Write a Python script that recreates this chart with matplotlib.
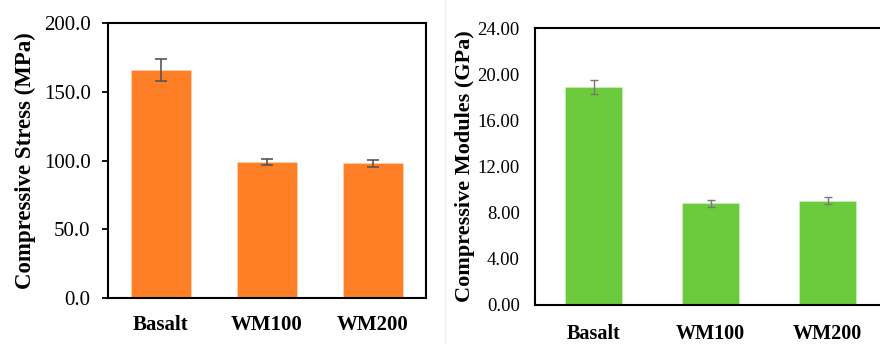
import numpy as np
import matplotlib
matplotlib.use("Agg")
import matplotlib.pyplot as plt
from matplotlib.lines import Line2D

plt.rcParams['font.family'] = ['Liberation Serif', 'DejaVu Serif']

categories = ["Basalt", "WM100", "WM200"]
stress = [165.6, 98.8, 98.0]
stress_err = [8.0, 2.0, 2.5]
modulus = [18.86, 8.82, 9.02]
modulus_err = [0.6, 0.32, 0.3]
stress_ticks = [0, 50, 100, 150, 200]
modulus_ticks = [0, 4, 8, 12, 16, 20, 24]

fig = plt.figure(figsize=(8.8, 3.44), dpi=100)

# left panel
ax1 = fig.add_axes([0.1227, 0.1337, 0.3614, 0.7994])
x = np.arange(len(categories))
ax1.bar(x, stress, width=0.57, color="#FF7F27", edgecolor="#FFD0B0", linewidth=0.6,
        yerr=stress_err, capsize=4, error_kw=dict(ecolor="#555555", elinewidth=1.2, capthick=1.2))
ax1.set_xlim(-0.5, 2.5)
ax1.set_ylim(0, 200)
ax1.set_yticks(stress_ticks)
ax1.set_yticklabels(["%.1f" % v for v in stress_ticks], fontsize=15)
ax1.set_xticks(x)
ax1.set_xticklabels(categories, fontsize=15, fontweight="bold")
ax1.tick_params(axis="y", direction="out", length=4.5, width=1.3, pad=8)
ax1.tick_params(axis="x", length=0, pad=12)
ax1.set_ylabel("Compressive Stress (MPa)", fontsize=16.5, fontweight="bold")
ax1.yaxis.set_label_coords(-0.226, 0.5)
for s in ax1.spines.values():
    s.set_linewidth(1.5)

# right panel
ax2 = fig.add_axes([0.608, 0.1134, 0.3989, 0.8052])
ax2.bar(x, modulus, width=0.48, color="#6CCB3C", edgecolor="#C8EEB8", linewidth=0.6,
        yerr=modulus_err, capsize=3, error_kw=dict(ecolor="#777777", elinewidth=1.0, capthick=1.0))
ax2.set_xlim(-0.5, 2.5)
ax2.set_ylim(0, 24)
ax2.set_yticks(modulus_ticks)
ax2.set_yticklabels(["%.2f" % v for v in modulus_ticks], fontsize=13.5)
ax2.set_xticks(x)
ax2.set_xticklabels(categories, fontsize=14.5, fontweight="bold")
ax2.tick_params(axis="y", length=0, pad=11)
ax2.tick_params(axis="x", length=0, pad=14)
ax2.set_ylabel("Compressive Modules (GPa)", fontsize=16, fontweight="bold")
ax2.yaxis.set_label_coords(-0.172, 0.5)
for s in ax2.spines.values():
    s.set_linewidth(1.5)

# faint separator between the panels
fig.add_artist(Line2D([445 / 880, 445 / 880], [0, 1], color="#EEEEEE", linewidth=1.0))

fig.savefig("out.png", dpi=100)
